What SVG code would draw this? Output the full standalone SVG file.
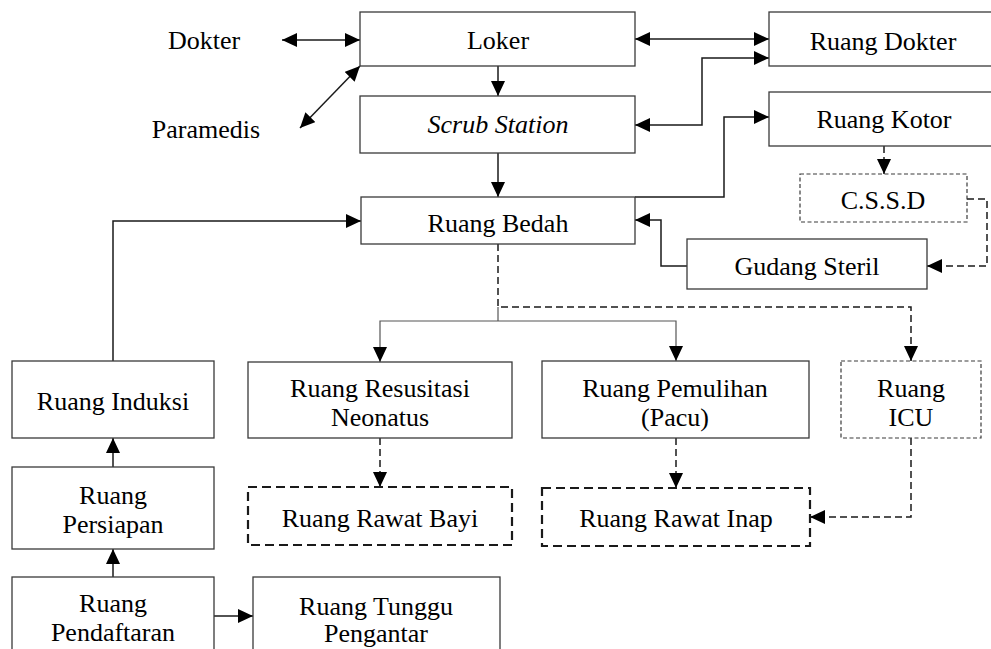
<svg xmlns="http://www.w3.org/2000/svg" width="991" height="649" viewBox="0 0 991 649">
  <style>
    .box { fill: #ffffff; stroke: #3a3a3a; stroke-width: 1.3; }
    .dotted { fill: #ffffff; stroke: #3a3a3a; stroke-width: 1.2; stroke-dasharray: 4 2.5; }
    .thickdash { fill: #ffffff; stroke: #1a1a1a; stroke-width: 2.2; stroke-dasharray: 9 5; }
    .lbl { font-family: "Liberation Serif", "Times New Roman", serif; font-size: 26px; fill: #000000; text-anchor: middle; }
    .it { font-style: italic; }
    .ln { fill: none; stroke: #1a1a1a; stroke-width: 1.5; }
    .thin { fill: none; stroke: #555555; stroke-width: 1.2; }
    .dash { fill: none; stroke: #1a1a1a; stroke-width: 1.5; stroke-dasharray: 7 4; }
  </style>
  <defs>
    <marker id="arrow" viewBox="0 0 15 14" refX="15" refY="7" markerWidth="15" markerHeight="14" markerUnits="userSpaceOnUse" orient="auto-start-reverse">
      <path d="M0,0 L15,7 L0,14 z" fill="#000000"/>
    </marker>
    <clipPath id="bedahClip">
      <rect x="361" y="197" width="274" height="40"/>
    </clipPath>
  </defs>

  <rect width="991" height="649" fill="#ffffff"/>

  <!-- connectors -->
  <g id="connectors">
    <path class="ln" d="M282,40 L360,40" marker-start="url(#arrow)" marker-end="url(#arrow)"/>
    <path class="ln" d="M300,128 L360,66" marker-start="url(#arrow)" marker-end="url(#arrow)"/>
    <path class="ln" d="M498,66 L498,96" marker-end="url(#arrow)"/>
    <path class="ln" d="M635,39 L769,39" marker-start="url(#arrow)" marker-end="url(#arrow)"/>
    <path class="ln" d="M635,125 L702,125 L702,58 L769,58" marker-start="url(#arrow)" marker-end="url(#arrow)"/>
    <path class="ln" d="M498,153 L498,197" marker-end="url(#arrow)"/>
    <path class="ln" d="M635,197 L724,197 L724,117 L769,117" marker-end="url(#arrow)"/>
    <path class="dash" d="M884,146 L884,174" marker-end="url(#arrow)"/>
    <path class="dash" d="M967,199 L987,199 L987,266 L927,266" marker-end="url(#arrow)"/>
    <path class="ln" d="M687,266 L661,266 L661,220 L635,220" marker-end="url(#arrow)"/>
    <path class="ln" d="M113,361 L113,221 L361,221" marker-end="url(#arrow)"/>
    <path class="dash" d="M498,244 L498,307 L911,307 L911,361" marker-end="url(#arrow)"/>
    <path class="thin" d="M498,307 L498,321"/>
    <path class="thin" d="M498,321 L380,321 L380,362" marker-end="url(#arrow)"/>
    <path class="thin" d="M498,321 L676,321 L676,361" marker-end="url(#arrow)"/>
    <path class="dash" d="M380,438 L380,487" marker-end="url(#arrow)"/>
    <path class="dash" d="M676,438 L676,488" marker-end="url(#arrow)"/>
    <path class="dash" d="M911,438 L911,517 L810,517" marker-end="url(#arrow)"/>
    <path class="ln" d="M113,467 L113,438" marker-end="url(#arrow)"/>
    <path class="ln" d="M113,577 L113,549" marker-end="url(#arrow)"/>
    <path class="ln" d="M214,616 L253,616" marker-end="url(#arrow)"/>
  </g>

  <!-- free labels -->
  <g id="dokter">
    <text class="lbl" x="204" y="49">Dokter</text>
  </g>
  <g id="paramedis">
    <text class="lbl" x="206" y="138">Paramedis</text>
  </g>

  <!-- nodes -->
  <g id="loker">
    <rect class="box" x="360" y="12" width="275" height="54"/>
    <text class="lbl" x="498" y="49">Loker</text>
  </g>
  <g id="scrub-station">
    <rect class="box" x="360" y="96" width="275" height="57"/>
    <text class="lbl it" x="498" y="133">Scrub Station</text>
  </g>
  <g id="ruang-dokter">
    <rect class="box" x="769" y="12" width="230" height="54"/>
    <text class="lbl" x="883" y="50">Ruang Dokter</text>
  </g>
  <g id="ruang-kotor">
    <rect class="box" x="769" y="92" width="230" height="54"/>
    <text class="lbl" x="884" y="128">Ruang Kotor</text>
  </g>
  <g id="cssd">
    <rect class="dotted" x="800" y="174" width="167" height="48"/>
    <text class="lbl" x="883" y="209">C.S.S.D</text>
  </g>
  <g id="gudang-steril">
    <rect class="box" x="687" y="239" width="240" height="50"/>
    <text class="lbl" x="807" y="275">Gudang Steril</text>
  </g>
  <g id="ruang-bedah">
    <rect class="box" x="361" y="197" width="274" height="47"/>
    <g clip-path="url(#bedahClip)">
      <text class="lbl" x="498" y="232">Ruang Bedah</text>
    </g>
  </g>
  <g id="ruang-induksi">
    <rect class="box" x="12" y="361" width="202" height="77"/>
    <text class="lbl" x="113" y="410">Ruang Induksi</text>
  </g>
  <g id="ruang-persiapan">
    <rect class="box" x="12" y="467" width="202" height="82"/>
    <text class="lbl"><tspan x="113" y="504">Ruang</tspan><tspan x="113" y="533">Persiapan</tspan></text>
  </g>
  <g id="ruang-pendaftaran">
    <rect class="box" x="12" y="577" width="202" height="85"/>
    <text class="lbl"><tspan x="113" y="612">Ruang</tspan><tspan x="113" y="641">Pendaftaran</tspan></text>
  </g>
  <g id="ruang-tunggu-pengantar">
    <rect class="box" x="253" y="577" width="247" height="85"/>
    <text class="lbl"><tspan x="376" y="615">Ruang Tunggu</tspan><tspan x="376" y="642">Pengantar</tspan></text>
  </g>
  <g id="ruang-resusitasi-neonatus">
    <rect class="box" x="248" y="362" width="264" height="76"/>
    <text class="lbl"><tspan x="380" y="397">Ruang Resusitasi</tspan><tspan x="380" y="426">Neonatus</tspan></text>
  </g>
  <g id="ruang-rawat-bayi">
    <rect class="thickdash" x="248" y="487" width="264" height="58"/>
    <text class="lbl" x="380" y="527">Ruang Rawat Bayi</text>
  </g>
  <g id="ruang-pemulihan">
    <rect class="box" x="542" y="361" width="267" height="77"/>
    <text class="lbl"><tspan x="675" y="397">Ruang Pemulihan</tspan><tspan x="675" y="426">(Pacu)</tspan></text>
  </g>
  <g id="ruang-icu">
    <rect class="dotted" x="841" y="361" width="140" height="77"/>
    <text class="lbl"><tspan x="911" y="397">Ruang</tspan><tspan x="911" y="426">ICU</tspan></text>
  </g>
  <g id="ruang-rawat-inap">
    <rect class="thickdash" x="542" y="488" width="268" height="58"/>
    <text class="lbl" x="676" y="527">Ruang Rawat Inap</text>
  </g>
</svg>
